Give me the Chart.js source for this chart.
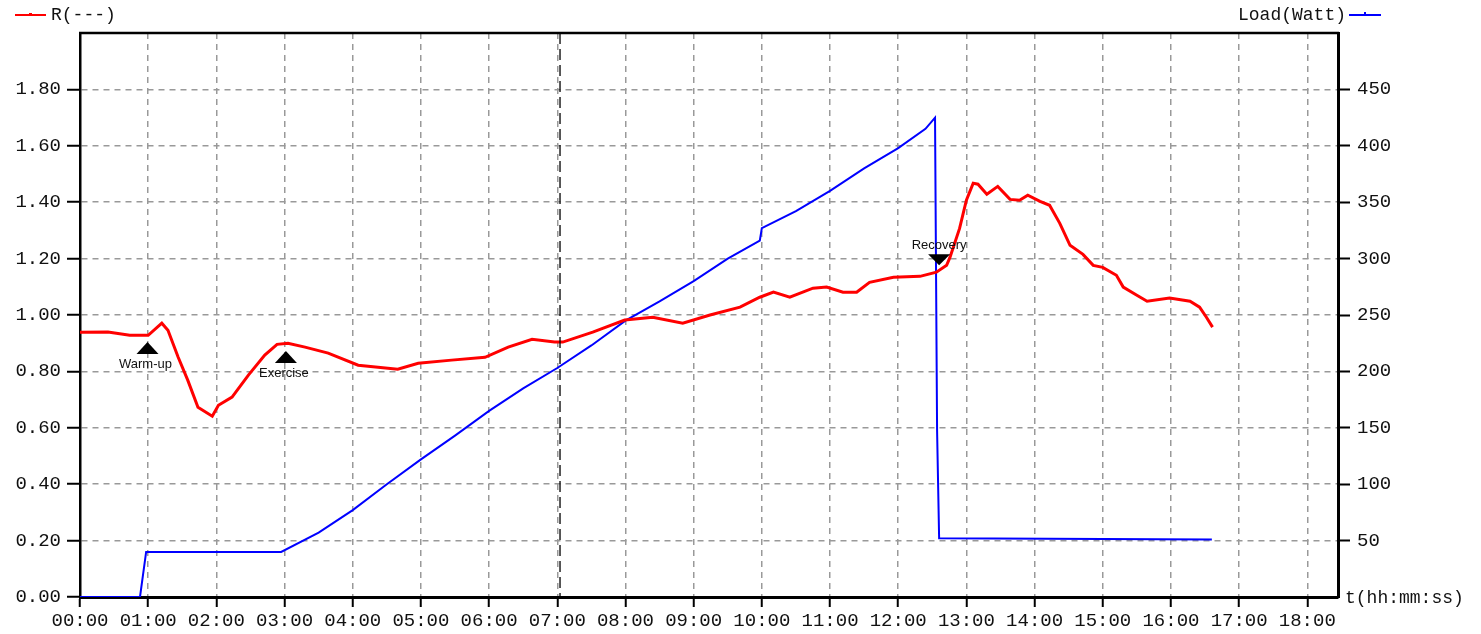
<!DOCTYPE html>
<html>
<head>
<meta charset="utf-8">
<script src="https://cdn.jsdelivr.net/npm/chart.js@4"></script>
<style>
  html, body { margin: 0; padding: 0; background: #fff; }
  canvas { display: block; }
</style>
</head>
<body>
<canvas id="chart" width="1481" height="634"></canvas>
<script>
// Dados (tempo em minutos)
const rTimes = [0, 0.41, 0.73, 1.0, 1.2, 1.29, 1.44, 1.58, 1.73, 1.94, 2.03, 2.23, 2.47, 2.71, 2.89,
  3.05, 3.3, 3.64, 4.08, 4.66, 4.96, 5.45, 5.94, 6.28, 6.63, 6.96, 7.08, 7.52, 7.99, 8.4, 8.84,
  9.24, 9.68, 9.97, 10.17, 10.41, 10.75, 10.95, 11.19, 11.39, 11.58, 11.93, 12.32, 12.56, 12.71,
  12.76, 12.9, 13.0, 13.1, 13.17, 13.3, 13.46, 13.64, 13.78, 13.9, 14.08, 14.22, 14.37, 14.52,
  14.71, 14.86, 15.0, 15.2, 15.3, 15.5, 15.65, 15.98, 16.28, 16.42, 16.52, 16.61];
const rValues = [0.939, 0.94, 0.928, 0.928, 0.971, 0.946, 0.85, 0.769, 0.673, 0.641, 0.68, 0.709, 0.787, 0.858, 0.896,
  0.90, 0.886, 0.865, 0.822, 0.808, 0.829, 0.84, 0.85, 0.886, 0.914, 0.904, 0.904, 0.939, 0.982, 0.992, 0.971,
  1.0, 1.028, 1.063, 1.081, 1.063, 1.095, 1.099, 1.081, 1.081, 1.116, 1.134, 1.137, 1.152, 1.176,
  1.205, 1.307, 1.407, 1.467, 1.464, 1.428, 1.456, 1.41, 1.407, 1.425, 1.403, 1.389, 1.325, 1.247,
  1.215, 1.176, 1.169, 1.141, 1.099, 1.07, 1.049, 1.06, 1.049, 1.028, 0.992, 0.957];

const loadTimes = [0, 0.88, 0.97, 2.95, 3.5, 4.0, 4.5, 5.0, 5.5, 6.0, 6.5, 7.0, 7.5, 8.0, 8.5, 9.0,
  9.5, 9.97, 10.0, 10.5, 11.0, 11.5, 12.0, 12.4, 12.54, 12.55, 12.57, 12.6, 16.6];
const loadValues = [0, 0, 40, 40, 57, 77, 100, 122, 143, 165, 185, 203, 223, 245, 262, 280,
  300, 316, 327, 342, 360, 380, 398, 415, 425, 425, 148, 52, 51];

const markerTimes = [0.99, 3.02, 12.6];
const markerValues = [0.904, 0.872, 1.176];
const markerLabels = ['Warm-up', 'Exercise', 'Recovery'];
const markerDown = [false, false, true];

const xTickMax = 18;
const cursorTime = 7.04;

const monoFont = '"Liberation Mono", "DejaVu Sans Mono", monospace';

function toPoints(xs, ys) {
  return xs.map((x, i) => ({ x: x, y: ys[i] }));
}

function pad2(n) {
  return (n < 10 ? '0' : '') + n;
}

// Plugin: borda superior, cursor, marcadores, legendas
const extras = {
  id: 'extras',
  afterDatasetsDraw(chart) {
    const ctx = chart.ctx;
    const area = chart.chartArea;
    const xs = chart.scales.x;
    const yl = chart.scales.y;

    ctx.save();
    // cursor vertical tracejado
    const cx = xs.getPixelForValue(cursorTime);
    ctx.strokeStyle = '#000';
    ctx.lineWidth = 1.3;
    ctx.setLineDash([11, 5]);
    ctx.beginPath();
    ctx.moveTo(cx, area.top);
    ctx.lineTo(cx, area.bottom);
    ctx.stroke();
    ctx.setLineDash([]);

    // borda superior
    ctx.lineWidth = 2.5;
    ctx.beginPath();
    ctx.moveTo(area.left - 1, area.top);
    ctx.lineTo(area.right + 1, area.top);
    ctx.stroke();

    // marcadores
    ctx.font = '13px "Liberation Sans", Arial, sans-serif';
    ctx.textAlign = 'center';
    ctx.textBaseline = 'middle';
    markerTimes.forEach((t, i) => {
      const px = xs.getPixelForValue(t);
      const py = yl.getPixelForValue(markerValues[i]);
      ctx.fillStyle = '#000';
      ctx.beginPath();
      if (markerDown[i]) {
        ctx.moveTo(px, py);
        ctx.lineTo(px - 11, py - 11);
        ctx.lineTo(px + 11, py - 11);
        ctx.closePath();
        ctx.fill();
        ctx.fillStyle = '#111';
        ctx.fillText(markerLabels[i], px, py - 20);
      } else {
        ctx.moveTo(px, py);
        ctx.lineTo(px - 11, py + 12);
        ctx.lineTo(px + 11, py + 12);
        ctx.closePath();
        ctx.fill();
        ctx.fillStyle = '#111';
        ctx.fillText(markerLabels[i], px - 2, py + 22);
      }
    });

    // legendas
    ctx.font = '18px ' + monoFont;
    ctx.fillStyle = '#111';
    ctx.textBaseline = 'middle';
    ctx.textAlign = 'left';
    ctx.fillText('R(---)', 51, 15);
    ctx.textAlign = 'right';
    ctx.fillText('Load(Watt)', 1346, 15);
    ctx.textAlign = 'left';
    ctx.fillText('t(hh:mm:ss)', 1345, area.bottom + 1);

    ctx.lineWidth = 2;
    ctx.strokeStyle = '#ff0000';
    ctx.beginPath();
    ctx.moveTo(15, 15);
    ctx.lineTo(46, 15);
    ctx.stroke();
    ctx.fillStyle = '#ff0000';
    ctx.fillRect(29, 13, 3, 3);

    ctx.strokeStyle = '#0000ff';
    ctx.beginPath();
    ctx.moveTo(1349, 15);
    ctx.lineTo(1381, 15);
    ctx.stroke();
    ctx.fillStyle = '#0000ff';
    ctx.fillRect(1364, 12, 2, 3);
    ctx.restore();
  }
};

// marcas de escala só nos valores rotulados
function tickColorFor(maxVal, hideZero) {
  return (c) => {
    const v = c.tick ? c.tick.value : null;
    if (v === null) return '#000';
    if (v >= maxVal - 1e-6) return 'rgba(0,0,0,0)';
    if (hideZero && v <= 0) return 'rgba(0,0,0,0)';
    return '#000';
  };
}

const ctx = document.getElementById('chart').getContext('2d');
const chart = new Chart(ctx, {
  type: 'line',
  data: {
    datasets: [{
      label: 'R(---)',
      data: toPoints(rTimes, rValues),
      borderColor: '#ff0000',
      backgroundColor: '#ff0000',
      borderWidth: 3,
      pointRadius: 0,
      tension: 0,
      yAxisID: 'y'
    }, {
      label: 'Load(Watt)',
      data: toPoints(loadTimes, loadValues),
      borderColor: '#0000ff',
      backgroundColor: '#0000ff',
      borderWidth: 2,
      pointRadius: 0,
      tension: 0,
      yAxisID: 'y1'
    }]
  },
  options: {
    responsive: false,
    animation: false,
    layout: { padding: { top: 33, left: 0, right: 0, bottom: 0 } },
    plugins: {
      legend: { display: false },
      tooltip: { enabled: false }
    },
    scales: {
      x: {
        type: 'linear',
        position: 'bottom',
        min: 0,
        max: 18.45,
        afterFit: (scale) => { scale.height = 37; },
        ticks: {
          stepSize: 1,
          includeBounds: false,
          autoSkip: false,
          maxRotation: 0,
          padding: 3,
          color: '#111',
          font: { family: monoFont, size: 19 },
          callback: (v) => (v <= xTickMax && Number.isInteger(v)) ? pad2(v) + ':00' : ''
        },
        grid: {
          color: '#999',
          lineWidth: 1.5,
          tickColor: '#000',
          tickWidth: 2,
          tickLength: 10,
          tickBorderDash: []
        },
        border: { display: true, color: '#000', width: 3, dash: [6, 5] }
      },
      y: {
        position: 'left',
        min: 0,
        max: 2,
        afterFit: (scale) => { scale.width = 80; },
        ticks: {
          stepSize: 0.2,
          padding: 6,
          color: '#111',
          font: { family: monoFont, size: 19 },
          callback: (v) => v >= 1.99 ? '' : v.toFixed(2)
        },
        grid: {
          color: '#999',
          lineWidth: 1.5,
          tickColor: tickColorFor(2, false),
          tickWidth: 2,
          tickLength: 13,
          tickBorderDash: []
        },
        border: { display: true, color: '#000', width: 2.5, dash: [6, 5] }
      },
      y1: {
        position: 'right',
        min: 0,
        max: 500,
        afterFit: (scale) => { scale.width = 143; },
        ticks: {
          stepSize: 50,
          padding: 7,
          color: '#111',
          font: { family: monoFont, size: 19 },
          callback: (v) => (v <= 0 || v >= 500) ? '' : String(v)
        },
        grid: {
          drawOnChartArea: false,
          tickColor: tickColorFor(500, true),
          tickWidth: 2,
          tickLength: 12,
          tickBorderDash: []
        },
        border: { display: true, color: '#000', width: 3 }
      }
    }
  },
  plugins: [extras]
});
</script>
</body>
</html>
